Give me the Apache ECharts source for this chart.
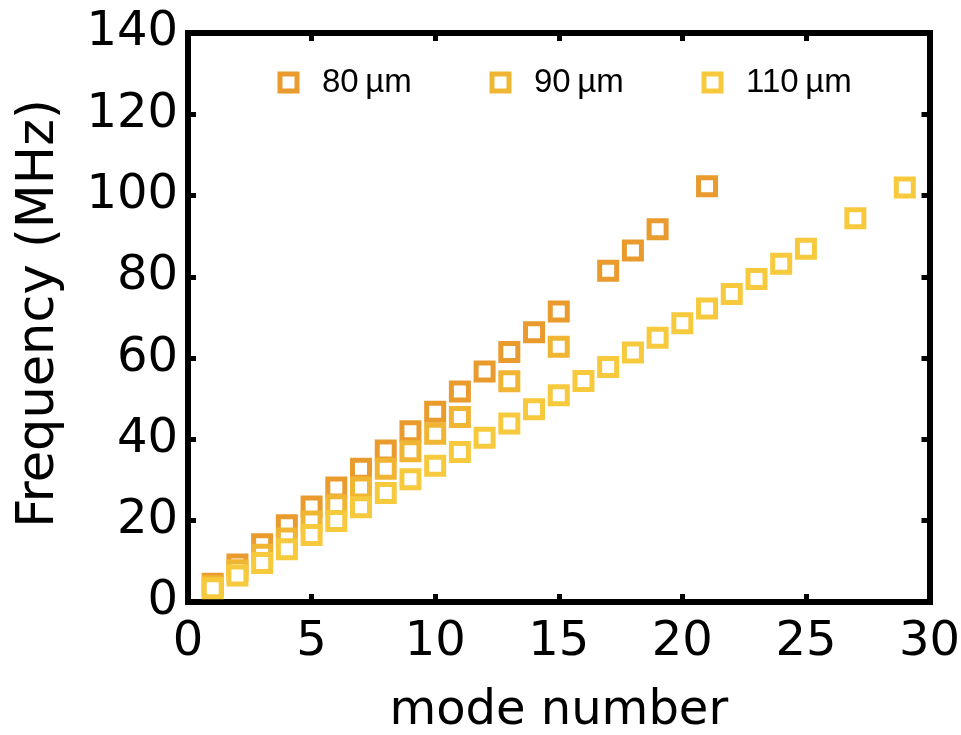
<!DOCTYPE html>
<html lang="en">
<head>
    <meta charset="UTF-8">
    <title>Frequency vs mode number</title>
    <script src="https://cdn.jsdelivr.net/npm/echarts@6/dist/echarts.min.js"></script>
</head>
<body style="margin:0;background:#fff;">
<div id="modes" style="width: 961px;height:735px;"></div>
<script type="text/javascript">
    // data
    var modes80 = [1, 2, 3, 4, 5, 6, 7, 8, 9, 10, 11, 12, 13, 14, 15, 17, 18, 19, 21];
    var freq80 = [4.5, 9.2, 14.2, 18.9, 23.5, 28.2, 32.8, 37.3, 42.0, 46.8, 51.8, 56.7, 61.5, 66.4, 71.5, 81.5, 86.5, 91.7, 102.3];
    var modes90 = [1, 2, 3, 4, 5, 6, 7, 8, 9, 10, 11, 13, 15];
    var freq90 = [3.9, 7.8, 11.6, 15.6, 19.8, 23.8, 28.2, 32.8, 37.1, 41.4, 45.5, 54.3, 62.8];
    var modes110 = [1, 2, 3, 4, 5, 6, 7, 8, 9, 10, 11, 12, 13, 14, 15, 16, 17, 18, 19, 20, 21, 22, 23, 24, 25, 27, 29];
    var freq110 = [3.4, 6.5, 9.6, 13.0, 16.5, 19.9, 23.3, 26.8, 30.2, 33.5, 36.9, 40.4, 43.9, 47.4, 50.9, 54.4, 57.8, 61.4, 65.0, 68.6, 72.2, 75.8, 79.5, 83.2, 86.9, 94.4, 102.0];
    var seriesNames = ['80\u2009µm', '90\u2009µm', '110\u2009µm'];
    var colors = ['#E99B2E', '#F1B534', '#F7C93D'];

    function pairs(xs, ys) {
        return xs.map(function (x, i) { return [x, ys[i]]; });
    }

    var chart = echarts.init(document.getElementById('modes'));

    var axisLine = {show: true, onZero: false, lineStyle: {color: '#000', width: 6, cap: 'square'}};
    var axisTick = {show: true, inside: true, length: 8, lineStyle: {color: '#000', width: 5}};
    var tickFont = {fontFamily: 'DejaVu Sans', fontSize: 48, color: '#000'};

    function scatter(i, data) {
        return {
            name: seriesNames[i],
            type: 'scatter',
            symbol: 'rect',
            symbolSize: 17,
            itemStyle: {
                color: '#fff',
                borderColor: colors[i],
                borderWidth: 5,
                opacity: 1
            },
            emphasis: {disabled: true},
            data: data
        };
    }

    function legendAt(i, left) {
        return {
            data: [seriesNames[i]],
            left: left,
            top: 66,
            padding: 0,
            icon: 'rect',
            itemWidth: 17,
            itemHeight: 17,
            itemStyle: {color: '#fff', borderColor: colors[i], borderWidth: 5},
            textStyle: {fontFamily: 'Liberation Sans', fontSize: 33, color: '#000', padding: [0, 0, 0, 20]},
            selectedMode: false
        };
    }

    var option = {
        animation: false,
        backgroundColor: '#fff',
        grid: {left: 188, right: 31.5, top: 33, bottom: 133, containLabel: false, outerBoundsMode: 'none'},
        legend: [legendAt(0, 277.5), legendAt(1, 489.5), legendAt(2, 701.5)],
        xAxis: [
            {
                type: 'value', position: 'bottom', min: 0, max: 30, interval: 5,
                name: 'mode number', nameLocation: 'middle', nameGap: 86,
                nameTextStyle: {fontFamily: 'DejaVu Sans', fontSize: 48, color: '#000'},
                axisLine: axisLine, axisTick: axisTick,
                axisLabel: Object.assign({margin: 17}, tickFont),
                splitLine: {show: false}
            },
            {
                type: 'value', position: 'top', min: 0, max: 30, interval: 5,
                axisLine: axisLine, axisTick: axisTick,
                axisLabel: {show: false}, splitLine: {show: false}
            }
        ],
        yAxis: [
            {
                type: 'value', position: 'left', min: 0, max: 140, interval: 20,
                name: 'Frequency (MHz)', nameLocation: 'middle', nameGap: 123,
                nameTextStyle: {fontFamily: 'DejaVu Sans', fontSize: 51, color: '#000', padding: [0, 0, 0, 8]},
                axisLine: axisLine, axisTick: axisTick,
                axisLabel: Object.assign({margin: 10}, tickFont),
                splitLine: {show: false}
            },
            {
                type: 'value', position: 'right', min: 0, max: 140, interval: 20,
                axisLine: axisLine, axisTick: axisTick,
                axisLabel: {show: false}, splitLine: {show: false}
            }
        ],
        series: [
            scatter(0, pairs(modes80, freq80)),
            scatter(1, pairs(modes90, freq90)),
            scatter(2, pairs(modes110, freq110))
        ]
    };

    chart.setOption(option);
</script>
</body>
</html>
